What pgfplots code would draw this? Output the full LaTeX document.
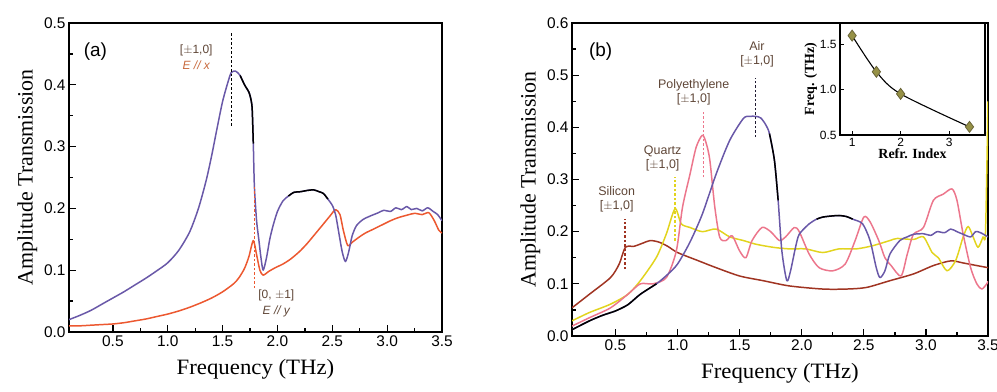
\documentclass[border=0pt]{standalone}
\usepackage{fontspec}
\setmainfont{Liberation Sans}
\newfontfamily\labelfont{Liberation Serif}
\usepackage{graphicx}
\usepackage{pgfplots}
\usepackage{pgfplotstable}
\pgfplotsset{compat=1.18}

\definecolor{airblue}{RGB}{105,88,168}
\definecolor{ypol}{RGB}{236,88,48}
\definecolor{pecol}{RGB}{236,118,140}
\definecolor{qzcol}{RGB}{226,212,30}
\definecolor{sicol}{RGB}{160,52,34}
\definecolor{annot}{RGB}{95,70,55}
\definecolor{annotor}{RGB}{200,105,60}
\definecolor{olive}{RGB}{150,145,70}
\definecolor{olivedark}{RGB}{105,100,55}

% (a) E // x polarisation
\pgfplotstableread{
f T
0.10 0.020
0.20 0.027
0.30 0.035
0.40 0.045
0.50 0.055
0.60 0.065
0.70 0.076
0.80 0.087
0.90 0.099
1.00 0.112
1.10 0.132
1.20 0.162
1.28 0.200
1.35 0.245
1.40 0.285
1.45 0.330
1.50 0.373
1.55 0.405
1.58 0.420
1.62 0.422
1.66 0.415
1.70 0.400
1.74 0.388
1.76 0.375
1.77 0.360
1.78 0.305
1.79 0.235
1.81 0.180
1.83 0.150
1.85 0.120
1.87 0.100
1.90 0.120
1.93 0.150
1.96 0.172
2.00 0.195
2.05 0.212
2.10 0.220
2.15 0.226
2.21 0.227
2.27 0.229
2.33 0.230
2.38 0.227
2.42 0.224
2.46 0.215
2.50 0.205
2.53 0.190
2.56 0.160
2.59 0.130
2.62 0.114
2.65 0.130
2.68 0.155
2.72 0.172
2.78 0.182
2.85 0.188
2.92 0.193
2.97 0.197
3.03 0.195
3.08 0.201
3.13 0.198
3.18 0.203
3.22 0.198
3.27 0.200
3.32 0.196
3.37 0.201
3.42 0.195
3.46 0.190
3.50 0.180
}\ExData

% (a) E // y polarisation
\pgfplotstableread{
f T
0.10 0.010
0.20 0.010
0.30 0.011
0.40 0.012
0.50 0.013
0.60 0.015
0.70 0.018
0.80 0.021
0.90 0.025
1.00 0.029
1.10 0.034
1.20 0.040
1.30 0.047
1.40 0.055
1.50 0.065
1.60 0.078
1.65 0.088
1.70 0.103
1.74 0.122
1.78 0.148
1.81 0.125
1.84 0.100
1.87 0.092
1.92 0.098
1.98 0.104
2.05 0.110
2.12 0.118
2.20 0.130
2.27 0.143
2.35 0.160
2.42 0.175
2.48 0.188
2.53 0.198
2.57 0.190
2.60 0.165
2.64 0.140
2.68 0.145
2.74 0.153
2.80 0.160
2.87 0.166
2.95 0.173
3.03 0.180
3.10 0.185
3.18 0.189
3.25 0.192
3.32 0.190
3.38 0.193
3.43 0.180
3.47 0.165
3.50 0.160
}\EyData

% (b) air
\pgfplotstableread{
f T
0.15 0.012
0.29 0.029
0.40 0.040
0.50 0.048
0.60 0.060
0.70 0.080
0.83 0.100
0.92 0.118
1.00 0.138
1.10 0.180
1.20 0.234
1.31 0.310
1.42 0.375
1.53 0.417
1.58 0.421
1.63 0.421
1.67 0.418
1.71 0.405
1.74 0.388
1.78 0.337
1.81 0.260
1.84 0.163
1.88 0.106
1.91 0.125
1.95 0.170
1.98 0.195
2.06 0.215
2.12 0.224
2.17 0.228
2.24 0.230
2.30 0.231
2.36 0.229
2.41 0.224
2.49 0.215
2.55 0.183
2.60 0.131
2.63 0.112
2.67 0.125
2.71 0.157
2.79 0.183
2.85 0.190
2.90 0.195
2.98 0.196
3.04 0.193
3.09 0.200
3.15 0.198
3.20 0.205
3.25 0.200
3.30 0.195
3.36 0.190
3.40 0.200
3.44 0.198
3.50 0.190
}\AirData

% (b) polyethylene
\pgfplotstableread{
f T
0.15 0.019
0.29 0.035
0.46 0.054
0.60 0.080
0.70 0.100
0.80 0.100
0.91 0.112
0.99 0.163
1.04 0.247
1.10 0.310
1.15 0.362
1.20 0.385
1.23 0.370
1.26 0.337
1.30 0.247
1.34 0.189
1.39 0.183
1.44 0.192
1.50 0.163
1.55 0.150
1.60 0.183
1.68 0.208
1.75 0.200
1.82 0.183
1.87 0.190
1.94 0.208
1.98 0.200
2.06 0.157
2.14 0.131
2.25 0.125
2.35 0.138
2.43 0.183
2.50 0.228
2.55 0.219
2.62 0.183
2.67 0.150
2.72 0.135
2.80 0.115
2.85 0.157
2.90 0.195
2.98 0.208
3.06 0.260
3.14 0.272
3.21 0.282
3.25 0.260
3.30 0.195
3.36 0.131
3.41 0.100
3.45 0.090
3.49 0.100
3.50 0.105
}\PEData

% (b) quartz
\pgfplotstableread{
f T
0.15 0.029
0.29 0.045
0.46 0.061
0.60 0.080
0.70 0.106
0.83 0.151
0.91 0.196
0.98 0.244
1.03 0.215
1.10 0.208
1.20 0.200
1.31 0.205
1.42 0.190
1.53 0.183
1.63 0.176
1.77 0.170
1.90 0.167
2.03 0.167
2.17 0.160
2.30 0.167
2.44 0.167
2.57 0.173
2.71 0.183
2.77 0.187
2.90 0.185
2.98 0.190
3.05 0.160
3.10 0.150
3.17 0.125
3.24 0.145
3.30 0.190
3.34 0.210
3.38 0.190
3.42 0.170
3.46 0.190
3.48 0.200
3.50 0.450
}\QzData

% (b) silicon
\pgfplotstableread{
f T
0.15 0.054
0.29 0.080
0.46 0.112
0.53 0.138
0.58 0.170
0.65 0.172
0.72 0.178
0.78 0.183
0.85 0.180
0.92 0.172
1.00 0.160
1.17 0.144
1.31 0.131
1.50 0.115
1.69 0.106
1.90 0.096
2.17 0.090
2.36 0.090
2.52 0.093
2.71 0.106
2.90 0.119
3.06 0.135
3.20 0.144
3.30 0.140
3.41 0.135
3.50 0.131
}\SiData

\pgfplotsset{
  panel/.style={
    scale only axis, anchor=south west,
    axis line style={line width=1.6pt},
    tick align=inside, tick pos=left,
    major tick length=7bp, minor tick length=4bp,
    every tick/.style={black, line width=1.3pt},
    minor x tick num=1, minor y tick num=1,
    ticklabel style={font=\fontsize{15.5}{15.5}\selectfont},
    /pgf/number format/assume math mode=true,
    xticklabel style={/pgf/number format/fixed, /pgf/number format/fixed zerofill, /pgf/number format/precision=1},
    yticklabel style={/pgf/number format/fixed, /pgf/number format/fixed zerofill, /pgf/number format/precision=1},
    label style={font=\labelfont\fontsize{22}{22}\selectfont},
    xlabel={\scalebox{1.04}[1]{Frequency (THz)}}, ylabel={Amplitude Transmission},
    xlabel style={yshift=-6bp},
    every axis plot/.append style={line width=1.5pt, line join=round, smooth, tension=0.45},
  },
  vmark/.style={line width=1.6pt, dash pattern=on 2.5bp off 2bp, sharp plot},
}

\begin{document}
\begin{tikzpicture}
\useasboundingbox (0,0) rectangle (997bp,392bp);

% ---- panel (a)
\begin{axis}[panel, at={(69bp,60bp)}, width=373bp, height=309bp,
  xmin=0.1, xmax=3.5, ymin=0, ymax=0.5,
  xtick={0.5,1.0,1.5,2.0,2.5,3.0,3.5}, ytick={0,0.1,0.2,0.3,0.4,0.5}]
\addplot[ypol] table {\EyData};
\addplot[airblue] table {\ExData};
\addplot[black, restrict x to domain=1.63:1.78] table {\ExData};
\addplot[black, restrict x to domain=2.08:2.47] table {\ExData};
\addplot[black, vmark] coordinates {(1.58,0.334) (1.58,0.485)};
\addplot[ypol, vmark] coordinates {(1.79,0.071) (1.79,0.234)};
\node[font=\fontsize{19}{19}\selectfont] at (axis cs:0.34,0.453) {(a)};
\node[annot, font=\fontsize{12}{12}\selectfont] at (axis cs:1.26,0.455) {[$\pm$1,0]};
\node[annotor, font=\itshape\fontsize{12}{12}\selectfont] at (axis cs:1.26,0.432) {E // x};
\node[annot, font=\fontsize{12}{12}\selectfont] at (axis cs:1.99,0.060) {[0, $\pm$1]};
\node[annot, font=\itshape\fontsize{12}{12}\selectfont] at (axis cs:1.99,0.034) {E // y};
\end{axis}

% ---- panel (b)
\begin{axis}[panel, at={(572bp,56bp)}, width=416bp, height=313bp,
  xmin=0.15, xmax=3.5, ymin=0, ymax=0.6,
  xtick={0.5,1.0,1.5,2.0,2.5,3.0,3.5}, ytick={0,0.1,0.2,0.3,0.4,0.5,0.6}]
\addplot[sicol] table {\SiData};
\addplot[qzcol] table {\QzData};
\addplot[pecol] table {\PEData};
\addplot[airblue] table {\AirData};
\addplot[black, restrict x to domain=0.15:0.85] table {\AirData};
\addplot[black, restrict x to domain=1.74:1.82] table {\AirData};
\addplot[black, restrict x to domain=2.10:2.45] table {\AirData};
\addplot[sicol, vmark] coordinates {(0.577,0.128) (0.577,0.224)};
\addplot[qzcol, vmark] coordinates {(0.98,0.183) (0.98,0.304)};
\addplot[pecol, vmark] coordinates {(1.21,0.304) (1.21,0.430)};
\addplot[black!70!airblue, vmark] coordinates {(1.626,0.381) (1.626,0.494)};
\node[font=\fontsize{19}{19}\selectfont] at (axis cs:0.38,0.545) {(b)};
\node[annot, font=\fontsize{12.5}{12.5}\selectfont, align=center] at (axis cs:0.51,0.262) {Silicon\\[1bp][$\pm$1,0]};
\node[annot, font=\fontsize{12.5}{12.5}\selectfont, align=center] at (axis cs:0.88,0.340) {Quartz\\[1bp][$\pm$1,0]};
\node[annot, font=\fontsize{12.5}{12.5}\selectfont, align=center] at (axis cs:1.13,0.467) {Polyethylene\\[1bp][$\pm$1,0]};
\node[annot, font=\fontsize{12.5}{12.5}\selectfont, align=center] at (axis cs:1.64,0.540) {Air\\[1bp][$\pm$1,0]};
\end{axis}

% ---- inset: resonance frequency against refractive index
\begin{axis}[scale only axis, anchor=south west, at={(840bp,257bp)}, width=145bp, height=112bp,
  axis background/.style={fill=white},
  axis line style={line width=1.4pt},
  tick align=inside, tick pos=left, major tick length=4bp,
  every tick/.style={black, line width=1.1pt},
  xmin=0.75, xmax=3.74, ymin=0.5, ymax=1.74,
  xtick={1,2,3}, ytick={0.5,1.0,1.5},
  ticklabel style={font=\fontsize{12}{12}\selectfont},
  /pgf/number format/assume math mode=true,
  yticklabel style={/pgf/number format/fixed, /pgf/number format/fixed zerofill, /pgf/number format/precision=1},
  label style={font=\labelfont\bfseries\fontsize{14}{14}\selectfont},
  xlabel={Refr. Index}, ylabel={Freq. (THz)},
  xlabel style={yshift=5bp}, ylabel style={yshift=-4bp}]
\addplot[black, line width=1.1pt, smooth, mark=diamond*, mark size=5.5bp,
  mark options={fill=olive, draw=olivedark, line width=0.8pt}]
  coordinates {(1,1.60) (1.5,1.20) (2,0.955) (3.42,0.59)};
\end{axis}
\end{tikzpicture}
\end{document}
